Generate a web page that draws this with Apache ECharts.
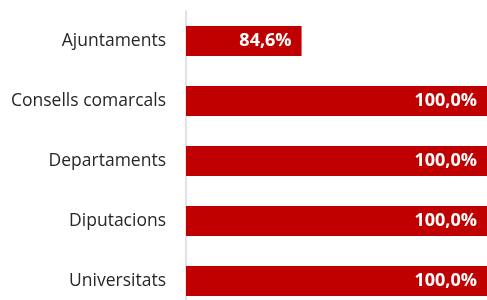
<!DOCTYPE html>
<html>
<head>
<meta charset="utf-8">
<script src="https://cdn.jsdelivr.net/npm/echarts@6/dist/echarts.min.js"></script>
<style>
  html, body { margin: 0; padding: 0; background: #fff; }
  #chart { width: 487px; height: 300px; }
</style>
</head>
<body>
<div id="chart"></div>
<script>
var categories = ['Ajuntaments', 'Consells comarcals', 'Departaments', 'Diputacions', 'Universitats'];
var values = [84.6, 100.0, 100.0, 100.0, 100.0];

function pct(v) {
    return v.toFixed(1).replace('.', ',') + '%';
}

var chart = echarts.init(document.getElementById('chart'), null, { renderer: 'canvas' });
chart.setOption({
    animation: false,
    grid: { left: 186, right: 0, top: 11, height: 300, outerBoundsMode: 'none', containLabel: false },
    xAxis: {
        type: 'value',
        min: 75,
        max: 100,
        show: false
    },
    yAxis: {
        type: 'category',
        data: categories,
        inverse: true,
        axisLine: { show: true, lineStyle: { color: '#d9d9d9', width: 1.5 } },
        axisTick: { show: false },
        axisLabel: {
            margin: 20,
            fontFamily: 'Open Sans',
            fontSize: 17.5,
            color: '#262626'
        }
    },
    series: [{
        type: 'bar',
        data: values,
        barWidth: 30,
        itemStyle: { color: '#c00000' },
        label: {
            show: true,
            position: 'insideRight',
            distance: 10,
            color: '#fff',
            fontFamily: 'Open Sans',
            fontWeight: 'bold',
            fontSize: 18,
            formatter: function (p) { return pct(p.value); }
        }
    }]
});
</script>
</body>
</html>
